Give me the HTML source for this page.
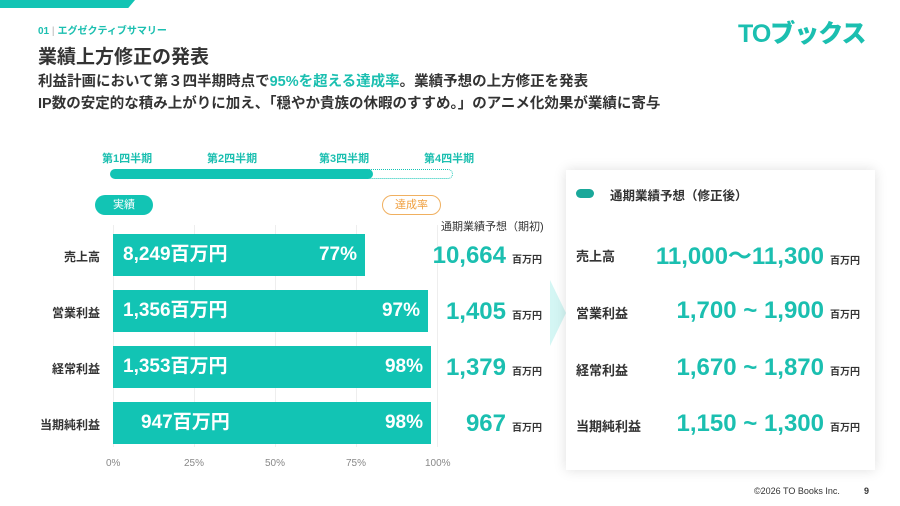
<!DOCTYPE html>
<html><head><meta charset="utf-8"><style>
*{margin:0;padding:0;box-sizing:border-box}
body{width:900px;height:506px;background:#fff;position:relative;overflow:hidden;font-family:"Liberation Sans","Noto Sans CJK JP",sans-serif;color:#333}
.a{position:absolute;white-space:nowrap}
.t{color:#1bbfb0}
.bar{position:absolute;left:113px;height:42px;background:#12c4b4;color:#fff;font-weight:bold;font-size:19px}
.bar span{position:absolute;top:0;line-height:42px;height:42px}
.lab{position:absolute;left:40px;width:60px;text-align:right;font-size:12px;font-weight:bold}
.fv{position:absolute;right:358px;font-size:24px;font-weight:bold;color:#1bbfb0}
.u{font-size:10px;color:#333;font-weight:bold;margin-left:6px}
.gl{position:absolute;top:225px;height:222px;border-left:1px solid #eee}
.tk{position:absolute;top:458px;font-size:10px;color:#888}
.rl{position:absolute;left:576px;font-size:13px;font-weight:bold}
.rv{position:absolute;right:40px;font-size:24px;font-weight:bold;color:#1bbfb0}
</style></head><body>
<div class="a" style="left:0;top:0;width:135px;height:8px;background:#12c4b4;clip-path:polygon(0 0,100% 0,95% 100%,0 100%)"></div>
<div class="a t" style="left:38px;top:22px;font-size:10px;font-weight:bold">01 <span style="color:#ccc">|</span> エグゼクティブサマリー</div>
<div class="a" style="left:38px;top:42px;font-size:19px;font-weight:bold">業績上方修正の発表</div>
<div class="a" style="left:38px;top:70px;font-size:14.5px;font-weight:bold">利益計画において第３四半期時点で<span class="t">95%を超える達成率</span>。業績予想の上方修正を発表</div>
<div class="a" style="left:38px;top:92px;font-size:14.5px;font-weight:bold">IP数の安定的な積み上がりに加え、「穏やか貴族の休暇のすすめ。」のアニメ化効果が業績に寄与</div>
<div class="a t" style="left:738px;top:14px;font-size:25px;font-weight:900;letter-spacing:-1px">TOブックス</div>

<div class="a t" style="left:102px;top:150px;font-size:11px;font-weight:bold">第1四半期</div>
<div class="a t" style="left:207px;top:150px;font-size:11px;font-weight:bold">第2四半期</div>
<div class="a t" style="left:319px;top:150px;font-size:11px;font-weight:bold">第3四半期</div>
<div class="a t" style="left:424px;top:150px;font-size:11px;font-weight:bold">第4四半期</div>
<div class="a" style="left:110px;top:169px;width:263px;height:10px;border-radius:5px;background:#12c4b4"></div>
<div class="a" style="left:365px;top:169px;width:88px;height:10px;border:1px dotted #12c4b4;border-left:none;border-radius:0 5px 5px 0"></div>
<div class="a" style="left:95px;top:195px;width:58px;height:20px;border-radius:10px;background:#12c4b4;color:#fff;font-size:11px;text-align:center;line-height:20px">実績</div>
<div class="a" style="left:382px;top:195px;width:59px;height:20px;border-radius:10px;border:1px solid #f0b060;color:#f0a040;font-size:11px;text-align:center;line-height:18px">達成率</div>
<div class="a" style="left:441px;top:218px;font-size:11px">通期業績予想（期初)</div>

<div class="gl" style="left:113px"></div><div class="gl" style="left:194px"></div><div class="gl" style="left:275px"></div><div class="gl" style="left:356px"></div><div class="gl" style="left:437px"></div>
<div class="tk" style="left:106px">0%</div><div class="tk" style="left:184px">25%</div><div class="tk" style="left:265px">50%</div><div class="tk" style="left:346px">75%</div><div class="tk" style="left:425px">100%</div>

<div class="lab" style="top:248px">売上高</div>
<div class="lab" style="top:304px">営業利益</div>
<div class="lab" style="top:360px">経常利益</div>
<div class="lab" style="top:416px">当期純利益</div>
<div class="bar" style="top:234px;width:252px"><span style="left:10px">8,249百万円</span><span style="right:8px">77%</span></div>
<div class="bar" style="top:290px;width:315px"><span style="left:10px">1,356百万円</span><span style="right:8px">97%</span></div>
<div class="bar" style="top:346px;width:318px"><span style="left:10px">1,353百万円</span><span style="right:8px">98%</span></div>
<div class="bar" style="top:402px;width:318px"><span style="left:28px">947百万円</span><span style="right:8px">98%</span></div>
<div class="fv" style="top:242px">10,664<span class="u">百万円</span></div>
<div class="fv" style="top:298px">1,405<span class="u">百万円</span></div>
<div class="fv" style="top:354px">1,379<span class="u">百万円</span></div>
<div class="fv" style="top:410px">967<span class="u">百万円</span></div>

<div class="a" style="left:550px;top:280px;width:16px;height:66px;background:#d4f6f4;clip-path:polygon(0 0,100% 50%,0 100%)"></div>
<div class="a" style="left:566px;top:170px;width:309px;height:300px;background:#fff;box-shadow:0 0 12px rgba(0,0,0,.13)"></div>
<div class="a" style="left:576px;top:189px;width:18px;height:9px;border-radius:5px;background:#1aa89a"></div>
<div class="a" style="left:610px;top:185px;font-size:12.5px;font-weight:bold">通期業績予想（修正後）</div>
<div class="rl" style="top:246px">売上高</div>
<div class="rl" style="top:303px">営業利益</div>
<div class="rl" style="top:360px">経常利益</div>
<div class="rl" style="top:416px">当期純利益</div>
<div class="rv" style="top:236px">11,000〜11,300<span class="u">百万円</span></div>
<div class="rv" style="top:297px">1,700 ~ 1,900<span class="u">百万円</span></div>
<div class="rv" style="top:354px">1,670 ~ 1,870<span class="u">百万円</span></div>
<div class="rv" style="top:410px">1,150 ~ 1,300<span class="u">百万円</span></div>

<div class="a" style="left:754px;top:486px;font-size:9px">©2026 TO Books Inc.</div>
<div class="a" style="left:864px;top:486px;font-size:9px;font-weight:bold">9</div>
</body></html>
